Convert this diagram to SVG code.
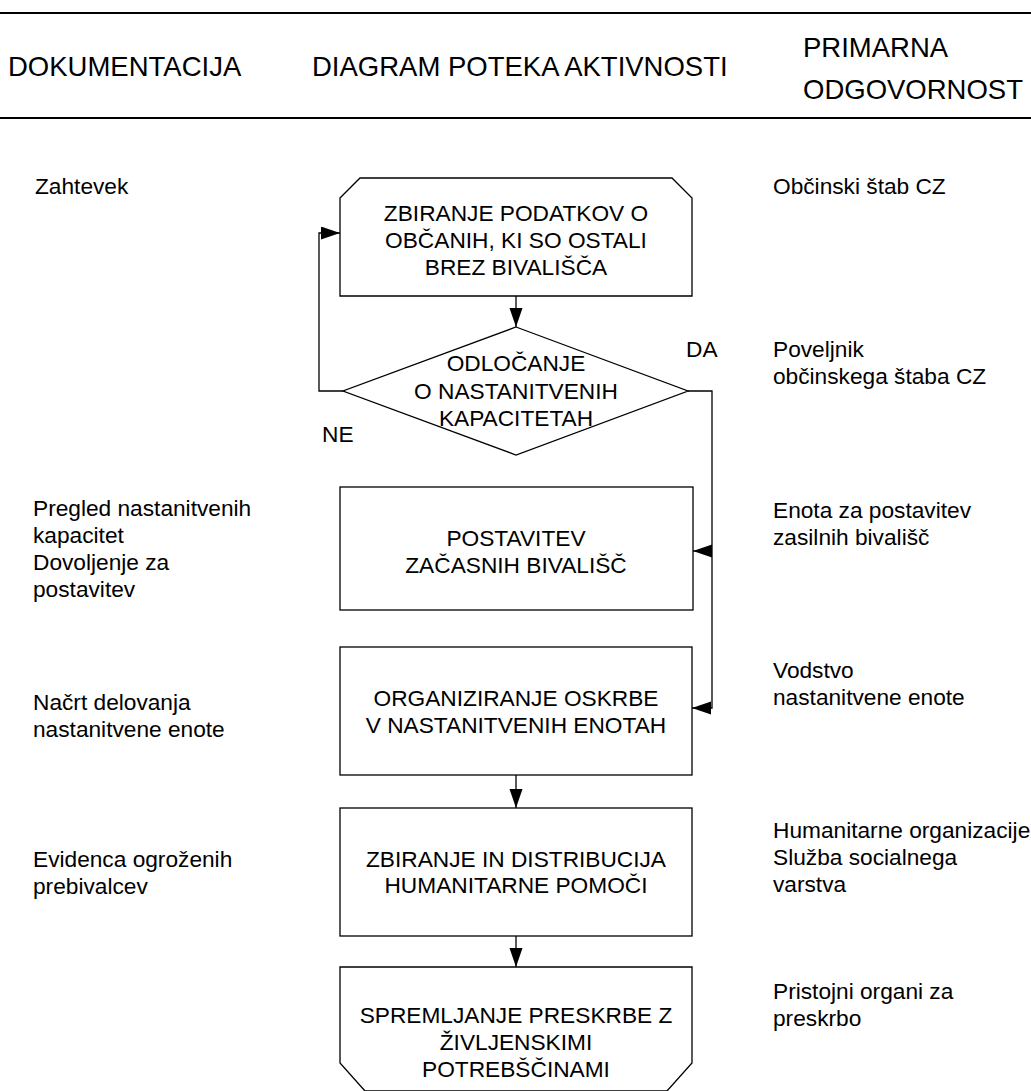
<svg xmlns="http://www.w3.org/2000/svg" width="1031" height="1091" viewBox="0 0 1031 1091">
<style>
text{font-family:"Liberation Sans",Arial,sans-serif;fill:#000}
.h{font-size:27.5px}
.t{font-size:22.7px}
.c{text-anchor:middle}
.s{fill:#fff;stroke:#000;stroke-width:1.3}
.e{fill:none;stroke:#000;stroke-width:1.3}
</style>
<defs>
<marker id="a" markerUnits="userSpaceOnUse" markerWidth="20" markerHeight="14" refX="19" refY="6.5" orient="auto"><path d="M0,0L19,6.5L0,13z" fill="#000"/></marker>
</defs>
<rect width="1031" height="1091" fill="#fff"/>
<g id="header">
<line x1="0" y1="13" x2="1031" y2="13" stroke="#000" stroke-width="2.2"/>
<line x1="0" y1="118" x2="1031" y2="118" stroke="#000" stroke-width="2.2"/>
<text class="h" x="8" y="76">DOKUMENTACIJA</text>
<text class="h" x="312" y="76">DIAGRAM POTEKA AKTIVNOSTI</text>
<text class="h" x="803" y="57">PRIMARNA</text>
<text class="h" x="803" y="99">ODGOVORNOST</text>
</g>
<g id="connectors">
<line class="e" x1="516" y1="296" x2="516" y2="327" marker-end="url(#a)"/>
<polyline class="e" points="343,391 319,391 319,233 340,233" marker-end="url(#a)"/>
<polyline class="e" points="688,391 712,391 712,708 692,708" marker-end="url(#a)"/>
<line class="e" x1="712" y1="551" x2="693" y2="551" marker-end="url(#a)"/>
<line class="e" x1="516" y1="775" x2="516" y2="808" marker-end="url(#a)"/>
<line class="e" x1="516" y1="936" x2="516" y2="967" marker-end="url(#a)"/>
<text class="t" x="322" y="442">NE</text>
<text class="t" x="686" y="357">DA</text>
</g>
<g id="n1">
<path class="s" d="M340,198L360,178L672,178L692,198L692,296L340,296Z"/>
<text class="t c" x="516" y="221">ZBIRANJE PODATKOV O</text>
<text class="t c" x="516" y="248">OBČANIH, KI SO OSTALI</text>
<text class="t c" x="516" y="275">BREZ BIVALIŠČA</text>
</g>
<g id="n2">
<polygon class="s" points="516,327 688,391 516,455 343,391"/>
<text class="t c" x="516" y="371">ODLOČANJE</text>
<text class="t c" x="516" y="399">O NASTANITVENIH</text>
<text class="t c" x="516" y="426">KAPACITETAH</text>
</g>
<g id="n3">
<rect class="s" x="340" y="487" width="353" height="123"/>
<text class="t c" x="516" y="546">POSTAVITEV</text>
<text class="t c" x="516" y="573">ZAČASNIH BIVALIŠČ</text>
</g>
<g id="n4">
<rect class="s" x="340" y="647" width="352" height="128"/>
<text class="t c" x="516" y="706">ORGANIZIRANJE OSKRBE</text>
<text class="t c" x="516" y="733">V NASTANITVENIH ENOTAH</text>
</g>
<g id="n5">
<rect class="s" x="340" y="808" width="352" height="128"/>
<text class="t c" x="516" y="867">ZBIRANJE IN DISTRIBUCIJA</text>
<text class="t c" x="516" y="893">HUMANITARNE POMOČI</text>
</g>
<g id="n6">
<path class="s" d="M340,967L692,967L692,1063L667,1091L365,1091L340,1063Z"/>
<text class="t c" x="516" y="1023">SPREMLJANJE PRESKRBE Z</text>
<text class="t c" x="516" y="1050">ŽIVLJENSKIMI</text>
<text class="t c" x="516" y="1077">POTREBŠČINAMI</text>
</g>
<g id="documentation">
<text class="t" x="35" y="194">Zahtevek</text>
<text class="t" x="33" y="516">Pregled nastanitvenih</text>
<text class="t" x="33" y="543">kapacitet</text>
<text class="t" x="33" y="570">Dovoljenje za</text>
<text class="t" x="33" y="597">postavitev</text>
<text class="t" x="33" y="710">Načrt delovanja</text>
<text class="t" x="33" y="737">nastanitvene enote</text>
<text class="t" x="33" y="867">Evidenca ogroženih</text>
<text class="t" x="33" y="894">prebivalcev</text>
</g>
<g id="responsibility">
<text class="t" x="773" y="194">Občinski štab CZ</text>
<text class="t" x="773" y="357">Poveljnik</text>
<text class="t" x="773" y="384">občinskega štaba CZ</text>
<text class="t" x="773" y="518">Enota za postavitev</text>
<text class="t" x="773" y="545">zasilnih bivališč</text>
<text class="t" x="773" y="678">Vodstvo</text>
<text class="t" x="773" y="705">nastanitvene enote</text>
<text class="t" x="773" y="838">Humanitarne organizacije</text>
<text class="t" x="773" y="865">Služba socialnega</text>
<text class="t" x="773" y="892">varstva</text>
<text class="t" x="773" y="999">Pristojni organi za</text>
<text class="t" x="773" y="1026">preskrbo</text>
</g>
</svg>
